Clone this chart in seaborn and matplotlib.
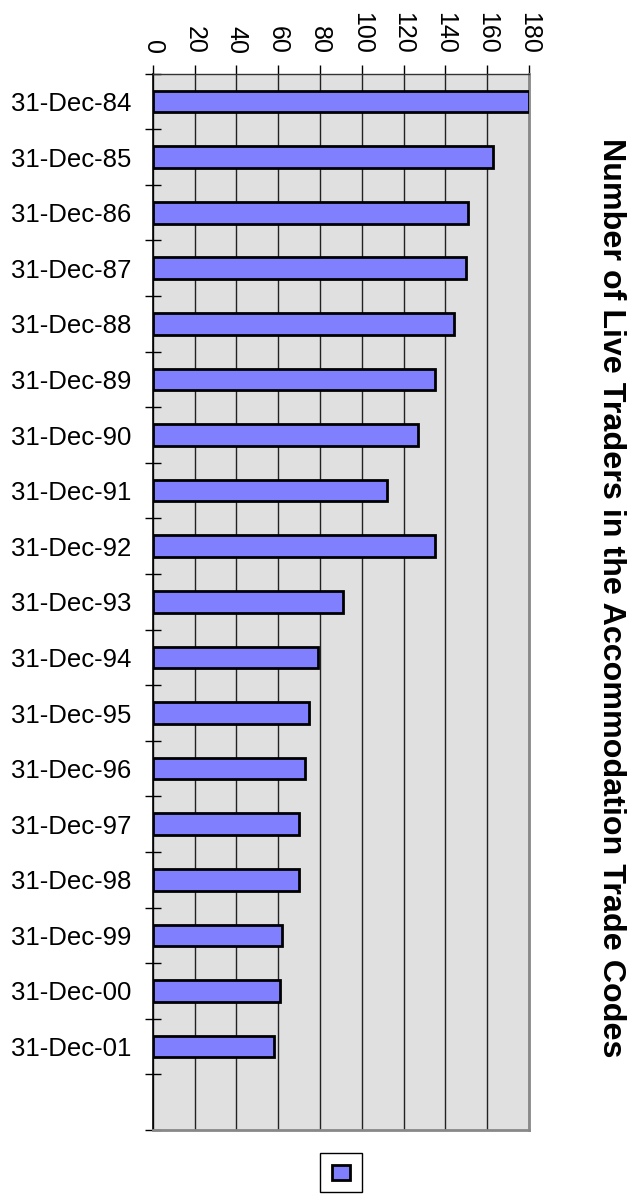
import numpy as np
import pandas as pd
import matplotlib
matplotlib.use("Agg")
import matplotlib.pyplot as plt
from matplotlib.patches import Patch
import seaborn as sns

dates = ["31-Dec-84", "31-Dec-85", "31-Dec-86", "31-Dec-87", "31-Dec-88", "31-Dec-89",
         "31-Dec-90", "31-Dec-91", "31-Dec-92", "31-Dec-93", "31-Dec-94", "31-Dec-95",
         "31-Dec-96", "31-Dec-97", "31-Dec-98", "31-Dec-99", "31-Dec-00", "31-Dec-01"]
traders = [180, 163, 151, 150, 144, 135, 127, 112, 135, 91, 79, 75, 73, 70, 70, 62, 61, 58]
value_ticks = [0, 20, 40, 60, 80, 100, 120, 140, 160, 180]
title = "Number of Live Traders in the Accommodation Trade Codes"

sns.set_theme(style="white")
plt.rcParams["font.family"] = ["Liberation Sans", "DejaVu Sans"]
plt.rcParams.update({"text.color": "black", "xtick.color": "black",
                     "ytick.color": "black", "axes.labelcolor": "black"})

df = pd.DataFrame({"date": dates, "traders": traders})

fig = plt.figure(figsize=(6.35, 12.04), dpi=100)
ax = fig.add_axes([0.2405, 0.0615, 0.5925, 0.8773])
ax.set_facecolor("#E0E0E0")

sns.barplot(data=df, y="date", x="traders", orient="h", color="#8080FF",
            saturation=1, width=0.39, edgecolor="black", linewidth=2, ax=ax, zorder=3)

n_slots = len(dates) + 1
ax.set_ylim(n_slots - 0.5, -0.5)
ax.set_xlim(0, 180)

# value axis along the top, labels turned
ax.xaxis.tick_top()
ax.set_xticks(value_ticks)
ax.set_xticklabels([str(v) for v in value_ticks], rotation=270, fontsize=18)
ax.tick_params(axis="x", which="major", direction="out", length=6.5, width=1,
               color="black", labelcolor="black", pad=8, top=True, bottom=False)
ax.xaxis.grid(True, color="#222222", linewidth=1)
ax.set_axisbelow(True)

# category axis: labels at centres, ticks between slots
ax.set_yticks(range(len(dates)))
ax.set_yticklabels(dates, fontsize=18.5)
ax.set_yticks(np.arange(-0.5, n_slots, 1), minor=True)
ax.tick_params(axis="y", which="major", length=0, pad=15.5, labelcolor="black")
ax.tick_params(axis="y", which="minor", direction="inout", length=12, width=1,
               color="black", left=True)
ax.set_xlabel("")
ax.set_ylabel("")

for side, col, lw in [("left", "black", 1.2), ("top", "#333333", 1.0),
                      ("right", "#888888", 2.0), ("bottom", "#888888", 2.0)]:
    ax.spines[side].set_visible(True)
    ax.spines[side].set_color(col)
    ax.spines[side].set_linewidth(lw)

fig.text(611 / 635, 1 - 597.5 / 1204, title, rotation=270, ha="center", va="center",
         fontsize=23.2, fontweight="bold", color="black")

leg = fig.legend(handles=[Patch(facecolor="#8080FF", edgecolor="black", linewidth=2)],
                 labels=[""], loc="center", bbox_to_anchor=(341 / 635, 1 - 1172.5 / 1204),
                 fontsize=10, handlelength=1.3, handleheight=1.3, handletextpad=0,
                 borderpad=0.85, borderaxespad=0, fancybox=False, frameon=True,
                 framealpha=1)
leg.get_frame().set_edgecolor("black")
leg.get_frame().set_linewidth(1)

fig.savefig("out.png", dpi=100)
